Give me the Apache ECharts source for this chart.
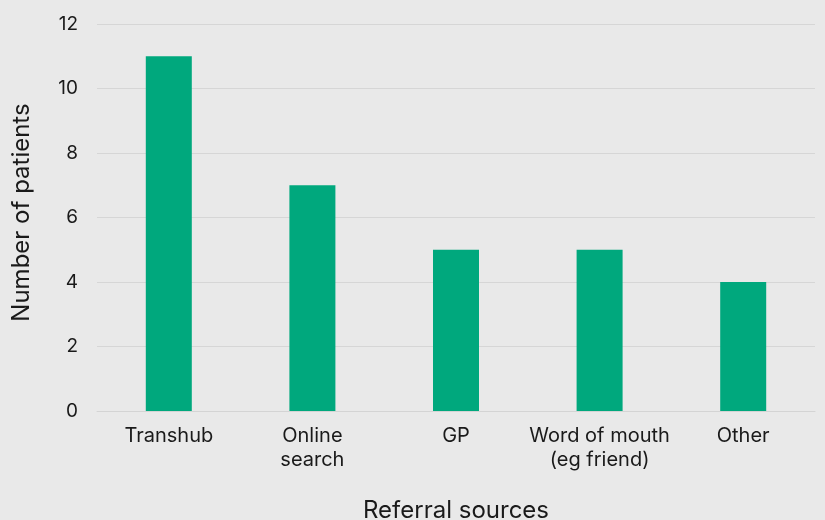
<!DOCTYPE html>
<html><head><meta charset="utf-8">
<script src="https://cdn.jsdelivr.net/npm/echarts@6/dist/echarts.min.js"></script>
<style>html,body{margin:0;padding:0;background:#e9e9e9;overflow:hidden}#c{width:825px;height:520px}</style>
</head><body><div id="c"></div>
<script>
const categories = ['Transhub', 'Online\nsearch', 'GP', 'Word of mouth\n(eg friend)', 'Other'];
const patients = [11, 7, 5, 5, 4];
const yTicks = [0, 2, 4, 6, 8, 10, 12];

const chart = echarts.init(document.getElementById('c'), null, {renderer: 'canvas'});
const font = 'Inter';
chart.setOption({
  backgroundColor: '#e9e9e9',
  animation: false,
  grid: {left: 97, right: 10, top: 24, bottom: 109, containLabel: false, outerBoundsMode: 'none'},
  xAxis: {
    type: 'category',
    data: categories,
    name: 'Referral sources',
    nameLocation: 'middle',
    nameGap: 88,
    nameTextStyle: {fontFamily: font, fontSize: 24, color: '#1a1a1a'},
    axisLine: {lineStyle: {color: '#d4d4d4', width: 1}},
    axisTick: {show: false},
    axisLabel: {fontFamily: font, fontSize: 20, color: '#1a1a1a', margin: 13, lineHeight: 24, interval: 0}
  },
  yAxis: {
    type: 'value',
    min: yTicks[0], max: yTicks[yTicks.length - 1], interval: 2,
    name: 'Number of patients',
    nameLocation: 'middle',
    nameGap: 63,
    nameTextStyle: {fontFamily: font, fontSize: 24, color: '#1a1a1a', padding: [0, 0, 0, 10]},
    axisLine: {show: false},
    axisTick: {show: false},
    splitLine: {lineStyle: {color: '#d6d6d6', width: 1}},
    axisLabel: {fontFamily: font, fontSize: 19, color: '#1a1a1a', margin: 19}
  },
  series: [{
    type: 'bar',
    data: patients,
    barWidth: 46,
    itemStyle: {color: '#00a87d'}
  }]
});
</script></body></html>
